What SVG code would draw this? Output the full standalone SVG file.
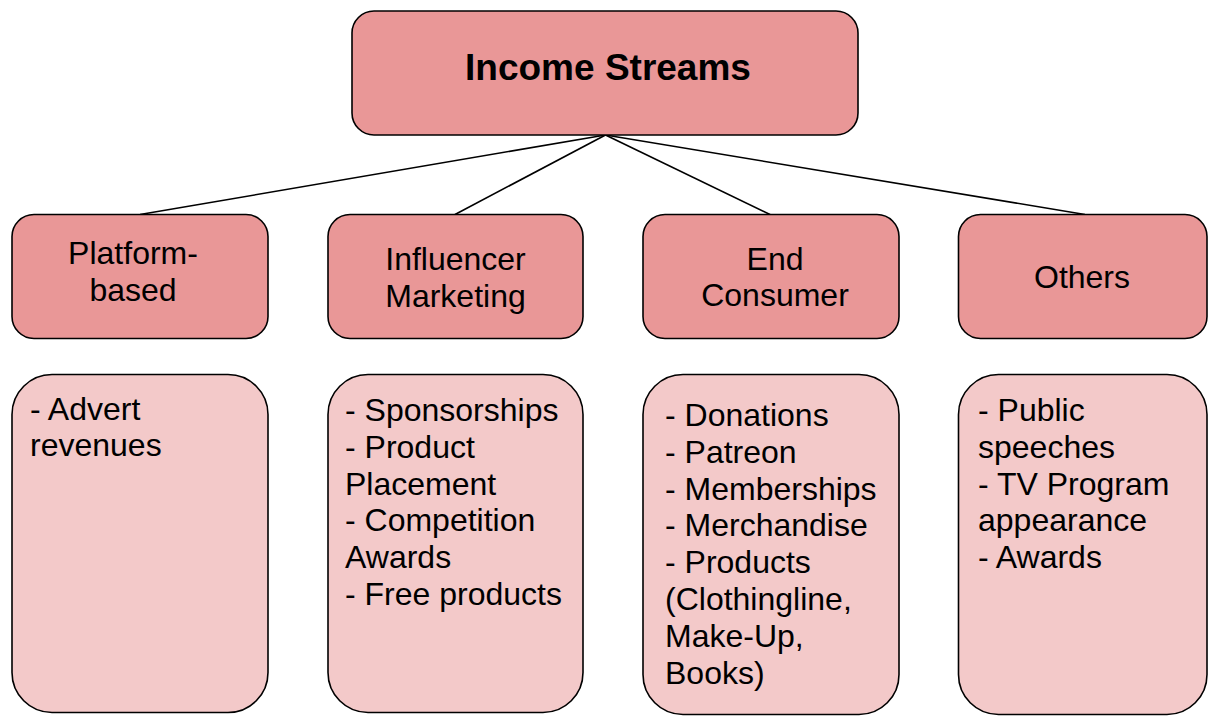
<svg xmlns="http://www.w3.org/2000/svg" width="1208" height="717" viewBox="0 0 1208 717">
<style>
.hdr{fill:#E99797;stroke:#000;stroke-width:1.6}
.lst{fill:#F3C9C9;stroke:#000;stroke-width:1.6}
.t{font-family:"Liberation Sans",Arial,sans-serif;font-size:32px;fill:#000}
.c{text-anchor:middle}
.title{font-family:"Liberation Sans",Arial,sans-serif;font-size:37px;font-weight:bold;fill:#000;text-anchor:middle}
.conn line{stroke:#000;stroke-width:1.6}
</style>
<rect width="1208" height="717" fill="#fff"/>
<g id="connectors" class="conn">
<line x1="605.5" y1="135" x2="140" y2="214.5"/>
<line x1="605.5" y1="135" x2="455" y2="214.5"/>
<line x1="605.5" y1="135" x2="770" y2="214.5"/>
<line x1="605.5" y1="135" x2="1085" y2="214.5"/>
</g>
<g id="income-streams">
<rect class="hdr" x="352" y="11" width="506" height="124" rx="22"/>
<text class="title" x="608" y="80">Income Streams</text>
</g>
<g id="platform-based">
<rect class="hdr" x="12" y="214.5" width="256" height="124" rx="22"/>
<text class="t c" x="133" y="264">Platform-</text>
<text class="t c" x="133" y="301">based</text>
</g>
<g id="influencer-marketing">
<rect class="hdr" x="328" y="214.5" width="255" height="124" rx="22"/>
<text class="t c" x="455.5" y="270">Influencer</text>
<text class="t c" x="455.5" y="306.5">Marketing</text>
</g>
<g id="end-consumer">
<rect class="hdr" x="643" y="214.5" width="256" height="124" rx="22"/>
<text class="t c" x="775" y="270">End</text>
<text class="t c" x="775" y="306">Consumer</text>
</g>
<g id="others">
<rect class="hdr" x="958.5" y="214.5" width="248.5" height="124" rx="22"/>
<text class="t c" x="1082" y="288">Others</text>
</g>
<g id="platform-list">
<rect class="lst" x="12" y="374.5" width="256" height="338" rx="40"/>
<text class="t" x="30" y="419.5">- Advert</text>
<text class="t" x="30" y="456.3">revenues</text>
</g>
<g id="influencer-list">
<rect class="lst" x="328" y="374.5" width="255" height="338" rx="40"/>
<text class="t" x="345" y="421">- Sponsorships</text>
<text class="t" x="345" y="457.8">- Product</text>
<text class="t" x="345" y="494.6">Placement</text>
<text class="t" x="345" y="531.4">- Competition</text>
<text class="t" x="345" y="568.2">Awards</text>
<text class="t" x="345" y="605">- Free products</text>
</g>
<g id="consumer-list">
<rect class="lst" x="643" y="374.5" width="256" height="340" rx="40"/>
<text class="t" x="665" y="426">- Donations</text>
<text class="t" x="665" y="462.8">- Patreon</text>
<text class="t" x="665" y="499.6">- Memberships</text>
<text class="t" x="665" y="536.4">- Merchandise</text>
<text class="t" x="665" y="573.2">- Products</text>
<text class="t" x="665" y="610">(Clothingline,</text>
<text class="t" x="665" y="646.8">Make-Up,</text>
<text class="t" x="665" y="683.6">Books)</text>
</g>
<g id="others-list">
<rect class="lst" x="958.5" y="374.5" width="248.5" height="340" rx="40"/>
<text class="t" x="978" y="421">- Public</text>
<text class="t" x="978" y="457.8">speeches</text>
<text class="t" x="978" y="494.6">- TV Program</text>
<text class="t" x="978" y="531.4">appearance</text>
<text class="t" x="978" y="568.2">- Awards</text>
</g>
</svg>
